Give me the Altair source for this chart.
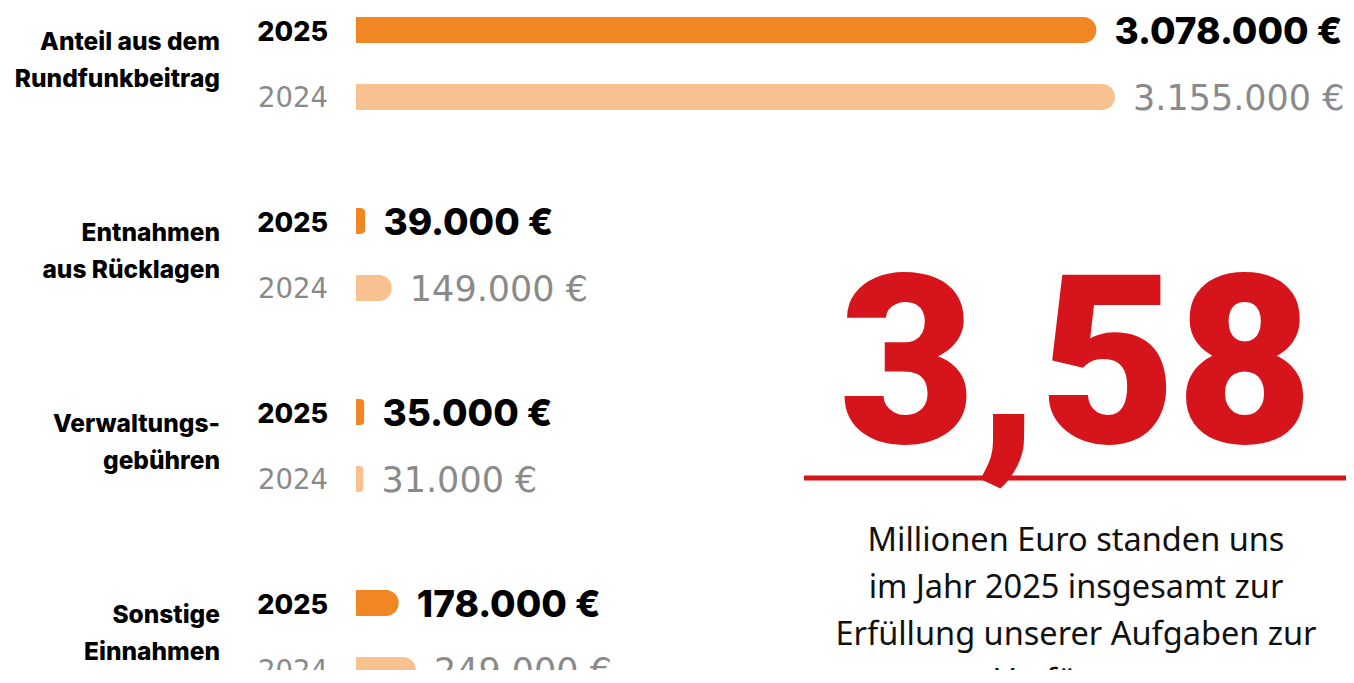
import altair as alt
import pandas as pd

# ---- data ----
categories = [
    "Anteil aus dem\nRundfunkbeitrag",
    "Entnahmen\naus Rücklagen",
    "Verwaltungs-\ngebühren",
    "Sonstige\nEinnahmen",
]
years = ["2025", "2024"]
values_2025 = [3078, 39, 35, 178]   # in Tausend Euro
values_2024 = [3155, 149, 31, 249]  # in Tausend Euro
headline_value = "3,58"
paragraph_lines = [
    "Millionen Euro standen uns",
    "im Jahr 2025 insgesamt zur",
    "Erfüllung unserer Aufgaben zur",
    "Verfügung",
]

# ---- style ----
ORANGE = "#F08724"
PEACH = "#F8C190"
GREY = "#8A8A8A"
RED = "#D5151B"
W, H = 1338, 662


def euro(v):
    return f"{v * 1000:,}".replace(",", ".") + " €"


rows = []
for c, v25, v24 in zip(categories, values_2025, values_2024):
    rows.append({"category": c, "year": "2025", "value": v25, "label": euro(v25)})
    rows.append({"category": c, "year": "2024", "value": v24, "label": euro(v24)})
df = pd.DataFrame(rows)
max_val = max(values_2025 + values_2024)

y_enc = alt.Y(
    "category:N",
    sort=categories,
    axis=None,
    scale=alt.Scale(range=[-40, 724], paddingInner=0, paddingOuter=0),
)
yoff_enc = alt.YOffset(
    "year:N", sort=years, scale=alt.Scale(paddingInner=0.612, paddingOuter=0.731)
)
x_enc = alt.X("value:Q", axis=None, scale=alt.Scale(domain=[0, max_val], range=[348, 1107]))

base = alt.Chart(df)

bars = base.mark_bar(cornerRadiusEnd=13).encode(
    x=x_enc,
    y=y_enc,
    yOffset=yoff_enc,
    color=alt.Color("year:N", scale=alt.Scale(domain=years, range=[ORANGE, PEACH]), legend=None),
)

year25 = base.transform_filter(alt.datum.year == "2025").mark_text(
    align="right", baseline="middle", dy=3, font="Inter", fontSize=27, fontWeight=800, color="#000000"
).encode(x=alt.value(320), y=y_enc, yOffset=yoff_enc, text="year:N")

year24 = base.transform_filter(alt.datum.year == "2024").mark_text(
    align="right", baseline="middle", dy=2, font="DejaVu Sans", fontSize=27.5, fontWeight=400, color=GREY
).encode(x=alt.value(320), y=y_enc, yOffset=yoff_enc, text="year:N")

val25 = base.transform_filter(alt.datum.year == "2025").mark_text(
    align="left", baseline="middle", dx=18, dy=3, font="Inter", fontSize=37, fontWeight=800, color="#000000"
).encode(x=x_enc, y=y_enc, yOffset=yoff_enc, text="label:N")

val24 = base.transform_filter(alt.datum.year == "2024").mark_text(
    align="left", baseline="middle", dx=18, dy=2, font="DejaVu Sans", fontSize=35, fontWeight=400, color=GREY
).encode(x=x_enc, y=y_enc, yOffset=yoff_enc, text="label:N")

cats = alt.Chart(pd.DataFrame({"category": categories})).mark_text(
    align="right", baseline="middle", lineBreak="\n", lineHeight=37, dy=-21,
    font="Inter", fontSize=24.5, fontWeight=800, color="#000000"
).encode(x=alt.value(212), y=y_enc, text="category:N")

big = alt.Chart(pd.DataFrame({"t": [headline_value]})).mark_text(
    align="center", baseline="alphabetic", font="Roboto", fontSize=236, fontWeight=900, color=RED
).encode(x=alt.value(1068), y=alt.value(435), text="t:N")

rule = alt.Chart(pd.DataFrame({"k": [0]})).mark_rule(color=RED, strokeWidth=5).encode(
    x=alt.value(796), x2=alt.value(1345), y=alt.value(470)
)

para = alt.Chart(pd.DataFrame({"t": ["\n".join(paragraph_lines)]})).mark_text(
    align="center", baseline="top", lineBreak="\n", lineHeight=47,
    font="Noto Sans", fontSize=32.5, color="#111111"
).encode(x=alt.value(1068), y=alt.value(517), text="t:N")

chart = alt.layer(bars, year25, year24, val25, val24, cats, big, rule, para).properties(
    width=W, height=H, autosize=alt.AutoSizeParams(type="none"), padding=0,
    background="white",
).configure_view(strokeWidth=0)

chart.save("out.html", embed_options={"renderer": "svg", "actions": False})
